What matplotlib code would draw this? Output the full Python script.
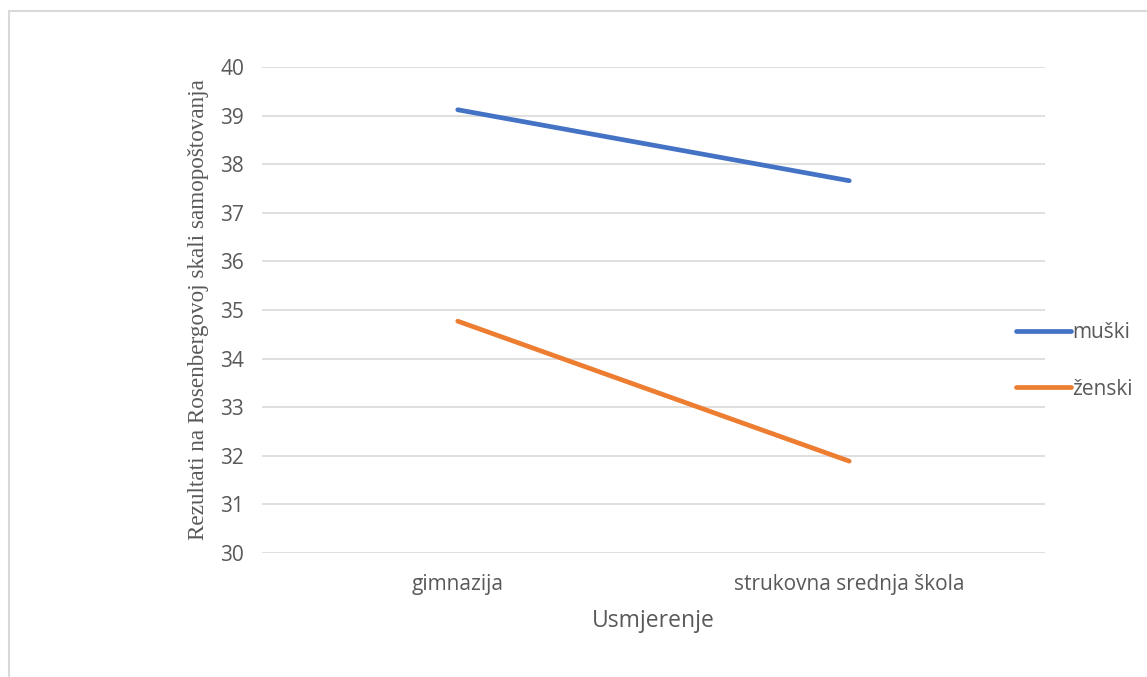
import matplotlib
matplotlib.use("Agg")
import matplotlib.pyplot as plt
from matplotlib.patches import Rectangle

categories = ['gimnazija', 'strukovna srednja škola']
muski = [39.12, 37.66]
zenski = [34.77, 31.89]
series_names = ['muški', 'ženski']
y_ticks = list(range(30, 41))

blue = '#4472C4'
orange = '#ED7D31'
text_col = '#595959'

fig = plt.figure(figsize=(11.47, 6.77), dpi=100)
W, H = 1147, 677

# outer chart border
fig.patches.append(Rectangle((9 / W, -0.1), 1.2, (H - 11) / H + 0.1, transform=fig.transFigure,
                             fill=False, ec='#D9D9D9', lw=1.5))

ax = fig.add_axes([262 / W, (H - 553) / H, (1045 - 262) / W, (553 - 67) / H])
x = list(range(len(categories)))
ax.plot(x, muski, color=blue, lw=3.4, solid_capstyle='round', label=series_names[0])
ax.plot(x, zenski, color=orange, lw=3.4, solid_capstyle='round', label=series_names[1])

ax.set_xlim(-0.5, len(categories) - 0.5)
ax.set_ylim(30, 40)
ax.set_yticks(y_ticks)
ax.set_xticks(x)
ax.set_xticklabels(categories)
ax.grid(axis='y', color='#D9D9D9', lw=1.2)
ax.set_axisbelow(True)
for s in ax.spines.values():
    s.set_visible(False)
ax.tick_params(length=0, labelsize=15, labelcolor=text_col)
for lab in ax.get_xticklabels() + ax.get_yticklabels():
    lab.set_family('Open Sans')
ax.tick_params(axis='y', pad=13)
ax.tick_params(axis='x', pad=15)

ax.set_xlabel('Usmjerenje', family='Open Sans', fontsize=16.5, color=text_col, labelpad=10)
ax.set_ylabel('Rezultati na Rosenbergovoj skali samopoštovanja', family='Liberation Serif',
              fontsize=16.7, color=text_col, labelpad=8)

leg = ax.legend(loc='center left', bbox_to_anchor=(1008 / W, (H - 361) / H), bbox_transform=fig.transFigure,
                frameon=False, handlelength=2.6, handletextpad=0.1, labelspacing=1.7,
                borderaxespad=0, prop={'family': 'Open Sans', 'size': 15})
for t in leg.get_texts():
    t.set_color(text_col)

fig.savefig('out.png', dpi=100)
